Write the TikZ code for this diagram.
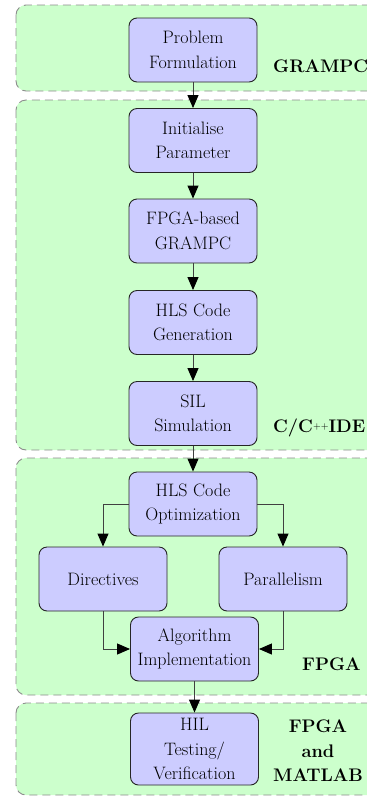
\documentclass[tikz,border=0pt]{standalone}
\usetikzlibrary{arrows.meta,positioning}
\definecolor{grpfill}{RGB}{204,255,204}
\definecolor{boxfill}{RGB}{204,204,255}
\begin{document}
\begin{tikzpicture}[x=1pt,y=-1pt,
  group/.style={draw=black!45, dashed, dash pattern=on 8pt off 5pt, line width=0.9pt, fill=grpfill, rounded corners=10pt},
  stepbox/.style={draw=black!85, line width=0.9pt, fill=boxfill, rounded corners=8pt,
    minimum width=128pt, minimum height=64pt, align=center, inner sep=3pt,
    font=\fontsize{18}{24.5}\selectfont},
  grplabel/.style={font=\fontsize{18.2}{24.5}\selectfont\bfseries, align=center},
  flow/.style={draw=black!75, line width=1pt, -{Triangle[length=13pt,width=11pt,color=black]}}]
\useasboundingbox (0,0) rectangle (367,796);
\clip (0,0) rectangle (367,796);

% tool-chain groups
\draw[group] (16,5) rectangle (385,91);
\draw[group] (16,100) rectangle (385,450);
\draw[group] (16,458) rectangle (385,695);
\draw[group] (16,703) rectangle (385,795);

% design steps
\node[stepbox] (prob) at (193,50) {Problem\\Formulation};
\node[stepbox] (init) at (193,140.5) {Initialise\\Parameter};
\node[stepbox] (fpga) at (193,231) {FPGA-based\\GRAMPC};
\node[stepbox] (hls)  at (193,322.5) {HLS Code\\Generation};
\node[stepbox] (sil)  at (193,413.5) {SIL\\Simulation};
\node[stepbox] (opt)  at (193,504) {HLS Code\\Optimization};
\node[stepbox] (dir)  at (103,579) {Directives};
\node[stepbox] (par)  at (283,579) {Parallelism};
\node[stepbox] (alg)  at (194.5,649) {Algorithm\\Implementation};
\node[stepbox, minimum height=72pt] (hil) at (194.5,749) {HIL\\Testing/\\Verification};

% group labels
\node[grplabel, anchor=base west, inner sep=0pt] (lgrampc) at (273,72) {GRAMPC};
\node[grplabel, anchor=base west, inner sep=0pt] (lide) at (273,432)
  {C/C\raisebox{0.35ex}{\normalfont\fontsize{10}{10}\selectfont ++}IDE};
\node[grplabel, anchor=base west, inner sep=0pt] (lfpga) at (302,670) {FPGA};
\node[grplabel, anchor=center, inner sep=0pt] (lmat) at (318,751) {FPGA\\and\\MATLAB};

% connectors
\draw[flow] (prob) -- (init);
\draw[flow] (init) -- (fpga);
\draw[flow] (fpga) -- (hls);
\draw[flow] (hls) -- (sil);
\draw[flow] (sil) -- (opt);
\draw[flow] (opt.west) -| (dir.north);
\draw[flow] (opt.east) -| (par.north);
\draw[flow] (dir.south) |- (alg.west);
\draw[flow] (par.south) |- (alg.east);
\draw[flow] (alg) -- (hil);
\end{tikzpicture}
\end{document}
